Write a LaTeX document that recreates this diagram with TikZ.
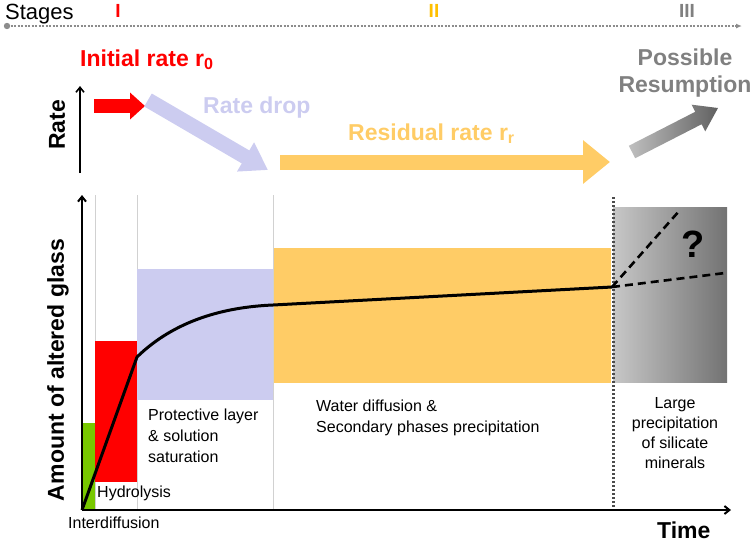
\documentclass[tikz,border=0pt]{standalone}
\usepackage{fontspec}
\setmainfont{Liberation Sans}
\usetikzlibrary{arrows.meta,calc}
\definecolor{hydro}{RGB}{255,0,0}
\definecolor{drop}{RGB}{204,204,240}
\definecolor{resid}{RGB}{255,204,102}
\definecolor{stagetwo}{RGB}{255,192,0}
\definecolor{inter}{RGB}{120,200,0}
\definecolor{resume}{RGB}{128,128,128}

\begin{document}
\begin{tikzpicture}[x=1pt,y=-1pt,
    big/.style={font=\fontsize{23}{27}\selectfont\bfseries,inner sep=0},
    small/.style={font=\fontsize{16}{21}\selectfont,inner sep=0},
    stagenum/.style={font=\fontsize{19}{22}\selectfont\bfseries,inner sep=0,anchor=base},
    guide/.style={draw=black!18,line width=0.8pt},
    axis/.style={line width=2pt,-{Straight Barb[length=5pt,width=8pt]}}]
  \useasboundingbox (0,0) rectangle (754,542);

  % stages
  \coordinate (s0) at (7,26);
  \coordinate (s1) at (742,26);
  \draw[black!45,line width=1.4pt,dash pattern=on 2pt off 1.5pt,-{Latex[length=6pt,width=5pt]}] (s0) -- (s1);
  \fill[black!45] (s0) circle (3.2);
  \node[font=\fontsize{22}{26}\selectfont,inner sep=0,anchor=base west] (stages) at (5,19) {Stages};
  \node[stagenum,text=hydro] (st1) at (118,17) {I};
  \node[stagenum,text=stagetwo] (st2) at (434,17) {II};
  \node[stagenum,text=resume] (st3) at (687,17) {III};

  % rate panel
  \coordinate (ra0) at (80,173);
  \coordinate (ra1) at (80,86);
  \draw[line width=1.6pt,-{Straight Barb[length=5pt,width=8pt]}] (ra0) -- (ra1);
  \node[big,rotate=90] (ratelab) at (57,125) {Rate};
  \node[big,text=hydro,anchor=base west] (ini) at (80,66) {Initial rate r\textsubscript{0}};
  \node[big,text=drop,anchor=base west] (droplab) at (203,113) {Rate drop};
  \node[big,text=resid,anchor=base west] (reslab) at (348,140) {Residual rate r\textsubscript{r}};
  \node[big,text=resume,align=center] (resume) at (685,73) {Possible\\Resumption};

  \coordinate (r0a) at (94,106);
  \coordinate (r0b) at (145,106);
  \coordinate (rda) at (148,100);
  \coordinate (rdb) at (268,170);
  \coordinate (rra) at (280,162);
  \coordinate (rrb) at (610,162);
  \coordinate (rsa) at (632,152);
  \coordinate (rsb) at (718,108);
  \draw[hydro,line width=14pt,-{Triangle[length=15pt,width=26pt]}] (r0a) -- (r0b);
  \draw[drop,line width=15pt,-{Triangle[length=26pt,width=32pt]}] (rda) -- (rdb);
  \draw[resid,line width=15pt,-{Triangle[length=27pt,width=42pt]}] (rra) -- (rrb);
  \coordinate (rsh) at ($(rsb)!22pt!(rsa)$);
  \shade[left color=black!25,right color=black!62]
    ($(rsa)!7pt!90:(rsb)$) -- ($(rsh)!7pt!90:(rsb)$) -- ($(rsh)!15pt!90:(rsb)$) -- (rsb)
    -- ($(rsh)!15pt!-90:(rsb)$) -- ($(rsh)!7pt!-90:(rsb)$) -- ($(rsa)!7pt!-90:(rsb)$) -- cycle;

  % altered glass panel
  \draw[guide] (95,195) -- (95,510);
  \draw[guide] (137,195) -- (137,510);
  \draw[guide] (273,195) -- (273,510);
  \fill[inter] (82,423) rectangle (95,510);
  \fill[hydro] (95,341) rectangle (137,482);
  \fill[drop] (137,269) rectangle (273,400);
  \fill[resid] (274,248) rectangle (611,383);
  \shade[left color=black!22,right color=black!55] (613,207) rectangle (727,382);
  \draw[black!70,line width=3pt,dash pattern=on 2.2pt off 1.8pt] (613,197) -- (613,510);

  \coordinate (o) at (82,510);
  \coordinate (ytop) at (82,195);
  \coordinate (xend) at (731,510);
  \draw[axis] (o) -- (ytop);
  \draw[axis] (o) -- (xend);

  \coordinate (c1) at (137,357);
  \coordinate (c2) at (273,305);
  \coordinate (c3) at (612,287);
  \coordinate (up) at (680,210);
  \coordinate (flat) at (725,273);
  \draw[line width=3pt,line join=round] (o) -- (c1) .. controls (175,320) and (225,307) .. (c2) -- (c3);
  \draw[line width=2.6pt,dash pattern=on 8pt off 5pt] (c3) -- (up);
  \draw[line width=2.6pt,dash pattern=on 8pt off 5pt] (c3) -- (flat);
  \node[font=\fontsize{38}{40}\selectfont\bfseries,inner sep=0] (quest) at (693,244) {?};

  \node[big,rotate=90] (amount) at (58,370) {Amount of altered glass};
  \node[big,anchor=base west] (time) at (657,538) {Time};
  \node[small,anchor=base west] (hyd) at (97,497) {Hydrolysis};
  \node[small,anchor=base west] (interd) at (68,528) {Interdiffusion};
  \node[small,align=left,anchor=west] (prot) at (148,436) {Protective layer\\\& solution\\saturation};
  \node[small,align=left,anchor=west] (water) at (316,418) {Water diffusion \&\\Secondary phases precipitation};
  \node[font=\fontsize{16}{20}\selectfont,inner sep=0,align=center] (large) at (675,433) {Large\\precipitation\\of silicate\\minerals};
\end{tikzpicture}
\end{document}
